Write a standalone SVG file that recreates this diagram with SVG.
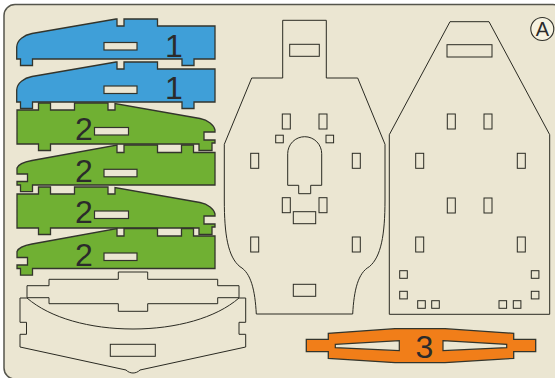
<svg xmlns="http://www.w3.org/2000/svg" xmlns:xlink="http://www.w3.org/1999/xlink" width="555" height="378" viewBox="0 0 555 378">
<style>
.cut{fill:#ebe6d2;stroke:#2a2a22;stroke-width:1;stroke-linejoin:miter}
.part{stroke:#33352c;stroke-width:1.3;stroke-linejoin:miter}
.blue{fill:#3f9fd8}.green{fill:#70b033}.orange{fill:#f17e19}
.slot{fill:#ebe6d2;stroke:#33352c;stroke-width:1.2}
.num{font-family:"Liberation Sans",Arial,sans-serif;font-size:32px;fill:#2b2b2b;text-anchor:middle}
</style>
<defs>
<path id="wingA" d="M16.7 59V47C17 40 24 35 32 33.5L116 19H117V26H124V19H157.5V26H215V59H194V65.5H182V59H32.5V65.5H20.5V59Z"/>
<path id="wingB" d="M17 110H38.5V103H50.5V110H74.5V103H108V110H115V103.5L200 118.5C208 120 214 125 215 130V132H204V140H215V143H212V150.5H199V144H50.5V150.5H38.5V144H17Z"/>
<path id="wingC" d="M17 170V168C18 165 24 162 32 160.5L117 145V152.5H124V145H157.5V152.5H181.5V145H193.5V152.5H215V185H32.5V191.7H20.5V185H17V181.5H27.5V174H17Z"/>
<rect id="s" width="8" height="15"/>
<rect id="q" width="7.6" height="7.6"/>
</defs>
<rect x="4" y="4.5" width="560" height="374.5" rx="11" fill="#ebe6d2" stroke="#55554c" stroke-width="1.5"/>
<g id="part-1a"><use href="#wingA" class="part blue"/><rect class="slot" x="104" y="42.5" width="33" height="7.5"/><text class="num" x="174" y="57">1</text></g>
<g id="part-1b"><use href="#wingA" y="43" class="part blue"/><rect class="slot" x="104" y="86" width="33" height="7.5"/><text class="num" x="174" y="99">1</text></g>
<g id="part-2a"><use href="#wingB" class="part green"/><rect class="slot" x="94.5" y="127.5" width="34" height="7.5"/><text class="num" x="84" y="139.5">2</text></g>
<g id="part-2b"><use href="#wingC" class="part green"/><rect class="slot" x="104" y="169.3" width="33" height="7.5"/><text class="num" x="84" y="181.7">2</text></g>
<g id="part-2c"><use href="#wingB" y="84" class="part green"/><rect class="slot" x="94.5" y="211" width="34" height="7.5"/><text class="num" x="84" y="223">2</text></g>
<g id="part-2d"><use href="#wingC" y="83.5" class="part green"/><rect class="slot" x="104" y="253" width="33" height="7.5"/><text class="num" x="84" y="265.5">2</text></g>
<g id="tray-bar"><path class="cut" d="M27 285.7H49V279.3H118.3V272H147.7V279.3H217.7V285.7H239V297.7H217.7V303.7H147.7V311.3H118.3V303.7H49V297.7H27Z"/></g>
<g id="tray-base"><path class="cut" fill-opacity="0" d="M20 298H27C50 318 90 329 133 329C176 329 216 318 239 298H245.7V322.3H239V334.3H245.7V347L140 370C136 374 130 374 126 370L20 347V334.3H26.5V322.3H20Z"/><rect class="cut" x="110.3" y="344.3" width="45" height="12"/></g>
<g id="plate-left"><path class="cut" d="M282.7 20.3H326.3V78H357.7L385 144.3V200C385 235 381 257 369.3 266.7C358 273 354 290 352.7 314H256.3C255 290 251 273 240 266.7C228 257 224.3 235 224.3 200V144.3L251.7 78H282.7Z"/>
<rect class="cut" x="289.7" y="44.3" width="29.6" height="12"/>
<use href="#s" x="282.3" y="114" class="cut"/><use href="#s" x="319" y="114" class="cut"/>
<use href="#q" x="275.7" y="135.2" class="cut"/><use href="#q" x="326" y="135.2" class="cut"/>
<use href="#s" x="250.7" y="153.3" class="cut"/><use href="#s" x="352.3" y="153.3" class="cut"/>
<path class="cut" d="M287.7 153.7A17 17 0 0 1 321.7 153.7V185.3H310.7V193.7H298.7V185.3H287.7Z"/>
<use href="#s" x="282.3" y="197.7" class="cut"/><use href="#s" x="319" y="197.7" class="cut"/>
<rect class="cut" x="293.3" y="211.7" width="22.4" height="12"/>
<use href="#s" x="250.7" y="237" class="cut"/><use href="#s" x="352.3" y="237" class="cut"/>
<rect class="cut" x="293.3" y="284.3" width="22.4" height="12"/></g>
<g id="plate-right"><path class="cut" d="M450 21.7H489L549.7 134.7V314.3H389.3V134.7Z"/>
<rect class="cut" x="447" y="44.7" width="45" height="12.3"/>
<use href="#s" x="447.3" y="114" class="cut"/><use href="#s" x="484" y="114" class="cut"/>
<use href="#s" x="415.7" y="153.3" class="cut"/><use href="#s" x="517.3" y="153.3" class="cut"/>
<use href="#s" x="447.3" y="198" class="cut"/><use href="#s" x="484" y="198" class="cut"/>
<use href="#s" x="415.7" y="237" class="cut"/><use href="#s" x="517.3" y="237" class="cut"/>
<use href="#q" x="399.7" y="270.7" class="cut"/><use href="#q" x="399.7" y="291.3" class="cut"/>
<use href="#q" x="531.3" y="270.7" class="cut"/><use href="#q" x="531.3" y="291.3" class="cut"/>
<use href="#q" x="417.7" y="300.7" class="cut"/><use href="#q" x="431.7" y="300.7" class="cut"/>
<use href="#q" x="499" y="300.7" class="cut"/><use href="#q" x="513.3" y="300.7" class="cut"/></g>
<g id="part-3"><path class="part orange" d="M306.3 339.3H328.3V333.3L395 328.7H445L513.7 333.3V339.3H535.7V351.7H513.7V358.3L445 362.7H395L328.3 358.3V351.7H306.3Z"/>
<path class="slot" d="M335.3 344.3L399.3 340.7V350.7L335.3 347.7ZM443 340.7L506.7 344.3V347.7L443 350.7Z"/>
<text class="num" x="424.5" y="358.3">3</text></g>
<g id="label-a"><circle cx="542.3" cy="29" r="11.5" fill="#f6f2e0" stroke="#2f2f28" stroke-width="1.1"/><text x="542.5" y="36" font-family="Liberation Sans, Arial, sans-serif" font-size="20" fill="#2b2b2b" text-anchor="middle">A</text></g>
</svg>
